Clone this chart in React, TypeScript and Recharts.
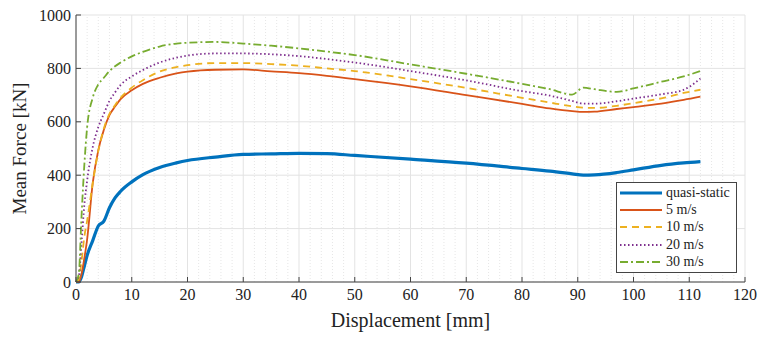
import { LineChart, Line, XAxis, YAxis, CartesianGrid, ReferenceLine } from "recharts";

// displacement [mm] shared by every curve
const displacement = [
  0, 0.5, 1, 1.5, 2, 3, 4, 5, 6, 7, 8, 10, 12, 15, 18, 20, 25, 30, 35, 40, 45, 50, 60, 70, 80, 85, 89, 91,
  93, 97, 100, 105, 109, 112,
];

// mean force [kN]
const quasiStatic = [
  0, 0, 20, 60, 100, 155, 210, 228, 278, 315, 340, 375, 402, 429, 446, 455, 468, 478, 480, 482, 481, 474, 460,
  445, 425, 415, 405, 400, 401, 410, 420, 437, 446, 451,
];
const speed5 = [
  0, 0, 30, 90, 160, 370, 494, 570, 625, 657, 685, 718, 742, 765, 781, 788, 795, 796, 789, 782, 772, 760, 733,
  700, 667, 650, 640, 637, 638, 648, 655, 668, 682, 694,
];
const speed10 = [
  0, 10, 80, 170, 230, 370, 490, 575, 630, 662, 690, 728, 756, 788, 805, 812, 820, 820, 816, 810, 800, 790, 760,
  727, 690, 672, 658, 653, 652, 660, 670, 688, 708, 720,
];
const speed20 = [
  0, 20, 150, 290, 380, 505, 580, 630, 678, 710, 738, 770, 794, 822, 840, 848, 856, 856, 853, 846, 835, 822, 790,
  755, 715, 698, 678, 668, 668, 677, 687, 703, 720, 762,
];
const speed30 = [
  0, 30, 250, 440, 580, 690, 740, 765, 790, 808, 822, 845, 862, 882, 893, 896, 899, 893, 885, 875, 863, 850, 815,
  780, 742, 722, 702, 728, 722, 712, 725, 750, 770, 790,
];

const xTicks = [0, 10, 20, 30, 40, 50, 60, 70, 80, 90, 100, 110, 120];
const yTicks = [0, 200, 400, 600, 800, 1000];
const xMinor = Array.from({ length: 61 }, (_, i) => i * 2).filter((v) => v % 10 !== 0);

const data = displacement.map((x, i) => ({
  x,
  qs: quasiStatic[i],
  v5: speed5[i],
  v10: speed10[i],
  v20: speed20[i],
  v30: speed30[i],
}));

const series = [
  { key: "qs", name: "quasi-static", color: "#0072BD", width: 3.2, dash: undefined },
  { key: "v5", name: "5 m/s", color: "#D95319", width: 1.8, dash: undefined },
  { key: "v10", name: "10 m/s", color: "#EDB120", width: 1.8, dash: "7 5" },
  { key: "v20", name: "20 m/s", color: "#7E2F8E", width: 1.8, dash: "1.5 2.5" },
  { key: "v30", name: "30 m/s", color: "#77AC30", width: 1.8, dash: "8 3 2 3" },
];

const FONT = "Liberation Serif, Times New Roman, DejaVu Serif, Noto Serif, serif";
const AXIS = "#444";

// legend sits over the lower right corner of the plot
function LegendBox() {
  return (
    <div
      style={{
        position: "absolute",
        left: 616,
        top: 182,
        border: `1px solid ${AXIS}`,
        background: "#fff",
        width: 119,
        padding: "1px 0",
        fontFamily: FONT,
        fontSize: 14,
        color: "#222",
      }}
    >
      {series.map((s) => (
        <div key={s.key} style={{ display: "flex", alignItems: "center", height: 17.4 }}>
          <svg width={44} height={10} style={{ marginLeft: 3, marginRight: 2 }}>
            <line x1={0} y1={5} x2={42} y2={5} stroke={s.color} strokeWidth={s.width} strokeDasharray={s.dash} />
          </svg>
          <span>{s.name}</span>
        </div>
      ))}
    </div>
  );
}

export default function App() {
  return (
    <div style={{ position: "absolute", left: 0, top: 0, width: 759, height: 338, background: "#fff" }}>
      <LineChart width={759} height={338} data={data} margin={{ top: 15, right: 14, bottom: 6, left: 16 }}>
        <CartesianGrid stroke="#e3e3e3" strokeWidth={1} />
        {xMinor.map((v) => (
          <ReferenceLine key={v} x={v} stroke="#e6e6e6" strokeDasharray="1 2" ifOverflow="hidden" />
        ))}
        <XAxis
          dataKey="x"
          type="number"
          domain={[0, 120]}
          ticks={xTicks}
          interval={0}
          stroke={AXIS}
          tickSize={-5}
          tickMargin={12}
          tick={{ fontFamily: FONT, fontSize: 16, fill: "#222" }}
          height={50}
          label={{
            value: "Displacement [mm]",
            position: "insideBottom",
            offset: 5,
            style: { fontFamily: FONT, fontSize: 20, fill: "#222" },
          }}
        />
        <XAxis
          xAxisId="top"
          orientation="top"
          dataKey="x"
          type="number"
          domain={[0, 120]}
          ticks={xTicks}
          stroke={AXIS}
          tickSize={-5}
          tick={false}
          height={0}
        />
        <YAxis
          type="number"
          domain={[0, 1000]}
          ticks={yTicks}
          interval={0}
          stroke={AXIS}
          tickSize={-5}
          tickMargin={10}
          width={60}
          tick={{ fontFamily: FONT, fontSize: 16, fill: "#222" }}
          label={{
            content: ({ viewBox }: any) => (
              <text
                x={22}
                y={viewBox.y + viewBox.height / 2}
                transform={`rotate(-90 22 ${viewBox.y + viewBox.height / 2})`}
                textAnchor="middle"
                dominantBaseline="middle"
                style={{ fontFamily: FONT, fontSize: 19, fill: "#222" }}
              >
                Mean Force [kN]
              </text>
            ),
          }}
        />
        <YAxis
          yAxisId="right"
          orientation="right"
          type="number"
          domain={[0, 1000]}
          ticks={yTicks}
          stroke={AXIS}
          tickSize={-5}
          tick={false}
          width={0}
        />
        {series.map((s) => (
          <Line
            key={s.key}
            dataKey={s.key}
            name={s.name}
            type="monotone"
            stroke={s.color}
            strokeWidth={s.width}
            strokeDasharray={s.dash}
            dot={false}
            isAnimationActive={false}
          />
        ))}
      </LineChart>
      <LegendBox />
    </div>
  );
}
